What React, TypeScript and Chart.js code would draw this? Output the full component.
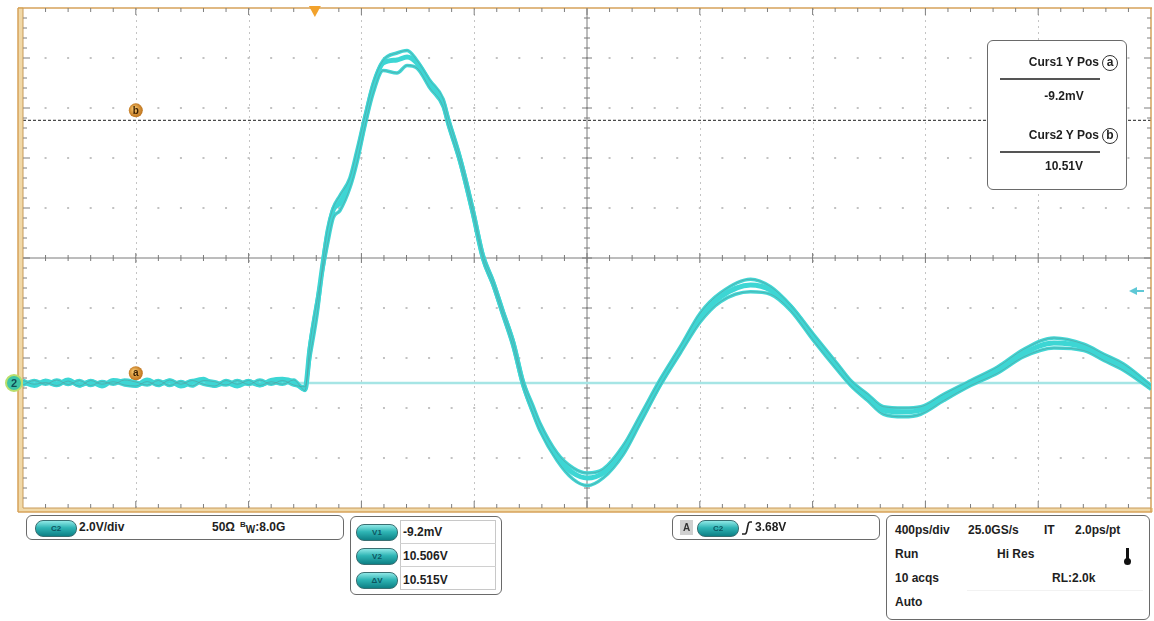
import React, { useEffect, useRef } from "react";
import { Chart, registerables } from "chart.js";

Chart.register(...registerables);

// ---------- data ----------
const timePs = [
  0, 40, 80, 120, 160, 200, 240, 280, 320, 360, 400, 440, 480, 520, 560, 600, 640, 680, 720, 760, 800, 840, 880, 920, 960, 1000,
  1017, 1046, 1064, 1079, 1100, 1124, 1159, 1184, 1213, 1242, 1277, 1326, 1362, 1397, 1443, 1490, 1507, 1550, 1596, 1631,
  1667, 1702, 1738, 1773, 1808, 1833, 1894, 1951, 2001, 2057, 2129, 2189, 2260, 2331, 2402, 2473, 2580, 2651, 2722, 2803,
  2889, 2935, 2995, 3052, 3123, 3183, 3265, 3361, 3457, 3549, 3656, 3762, 3833, 3904, 4000,
];

const trace1V = [
  0.05, -0.1, 0.08, -0.05, 0.12, -0.08, 0.05, -0.12, 0.1, 0.02, -0.1, 0.12, -0.05, 0.08, -0.12, 0.05, 0.15, -0.1, 0.02, -0.12, 0.05, -0.08, 0.1, 0.15, 0.05, -0.25,
  1.32, 3.32, 4.8, 5.84, 6.92, 7.2, 8.0, 9.04, 10.52, 11.84, 12.8, 12.92, 13.04, 12.8, 12.0, 11.2, 10.5, 8.92, 6.8, 5.04,
  4.0, 2.8, 1.6, 0, -1.08, -1.76, -2.96, -3.6, -3.8, -3.6, -2.68, -1.48, 0, 1.32, 2.64, 3.44, 3.92, 3.72, 3.04, 1.84,
  0.64, 0, -0.56, -1.08, -1.16, -1.08, -0.56, 0, 0.52, 1.2, 1.6, 1.44, 1.04, 0.64, -0.16,
];

const trace2V = [
  -0.08, 0.1, -0.05, 0.12, -0.06, 0.1, -0.1, 0.06, -0.05, 0.12, 0.04, -0.08, 0.1, -0.1, 0.06, -0.12, 0.1, 0.05, -0.08, 0.1, -0.06, 0.12, -0.05, 0.1, -0.08, -0.15,
  1.0, 3.0, 4.9, 6.1, 7.0, 7.5, 8.2, 9.3, 10.7, 12.0, 12.9, 13.2, 13.3, 12.9, 12.1, 11.35, 10.65, 9.05, 6.95, 5.15,
  4.1, 2.9, 1.7, 0.1, -0.9, -1.6, -2.8, -3.4, -3.6, -3.45, -2.5, -1.3, 0.15, 1.45, 2.8, 3.6, 4.15, 3.85, 3.1, 1.95,
  0.75, 0.1, -0.45, -0.95, -1.0, -0.95, -0.45, 0.1, 0.65, 1.35, 1.8, 1.55, 1.15, 0.75, -0.1,
];

const trace3V = [
  0.1, -0.05, 0.02, -0.1, 0.08, -0.12, 0.1, -0.05, 0.05, -0.08, -0.12, 0.06, -0.1, 0.12, -0.05, 0.1, -0.05, -0.12, 0.1, -0.05, 0.1, -0.1, 0.05, -0.05, 0.12, -0.3,
  1.5, 3.5, 4.6, 5.5, 6.6, 6.9, 7.8, 8.8, 10.3, 11.6, 12.5, 12.4, 12.7, 12.6, 11.8, 11.05, 10.35, 8.8, 6.7, 4.95,
  3.9, 2.7, 1.45, -0.1, -1.2, -1.9, -3.1, -3.85, -4.1, -3.8, -2.85, -1.6, -0.1, 1.2, 2.45, 3.25, 3.65, 3.55, 2.9, 1.7,
  0.5, -0.1, -0.7, -1.25, -1.35, -1.25, -0.7, -0.1, 0.4, 1.05, 1.4, 1.3, 0.9, 0.5, -0.25,
];

const groundT = [0, 4000];
const groundV = [0, 0];

const xDivisionsPs = [0, 400, 800, 1200, 1600, 2000, 2400, 2800, 3200, 3600, 4000];
const yDivisionsV = [-5, -3, -1, 1, 3, 5, 7, 9, 11, 13, 15];

const cursor1V = -0.0092;
const cursor2V = 10.506;
const cursorMarkerTimePs = 400;
const triggerTimePs = 1035;
const triggerLevelV = 3.68;

// ---------- plugin drawing the scope screen ----------
function ln(ctx: any, x1: number, y1: number, x2: number, y2: number) {
  ctx.beginPath();
  ctx.moveTo(x1, y1);
  ctx.lineTo(x2, y2);
  ctx.stroke();
}

function badge(ctx: any, x: number, y: number, letter: string) {
  const g = ctx.createRadialGradient(x - 2, y - 2, 1, x, y, 8);
  g.addColorStop(0, "#f7c46a");
  g.addColorStop(1, "#b86a14");
  ctx.fillStyle = g;
  ctx.beginPath();
  ctx.arc(x, y, 7, 0, Math.PI * 2);
  ctx.fill();
  ctx.fillStyle = "#3a1e00";
  ctx.font = 'bold 10px "Liberation Sans", Arial, sans-serif';
  ctx.textAlign = "center";
  ctx.textBaseline = "middle";
  ctx.fillText(letter, x, y + 0.5);
}

const scopePlugin = {
  id: "scopeScreen",
  beforeDatasetsDraw(chart: any) {
    const { ctx, chartArea: a, scales } = chart;
    const xs = scales.x;
    const ys = scales.y;
    const L = a.left, R = a.right, T = a.top, B = a.bottom;
    const xMaj = xDivisionsPs.map((v) => xs.getPixelForValue(v));
    const yMaj = yDivisionsV.map((v) => ys.getPixelForValue(v));
    const cx = xMaj[5];
    const cy = yMaj[5];
    const xm = (xMaj[1] - xMaj[0]) / 5;
    const ym = (yMaj[0] - yMaj[1]) / 5;
    ctx.save();

    ctx.strokeStyle = "#c4c4c4";
    ctx.lineWidth = 1;
    ctx.setLineDash([2, 4]);
    xMaj.forEach((px, i) => {
      if (i === 0 || i === 10 || i === 5) return;
      ln(ctx, Math.round(px) + 0.5, T, Math.round(px) + 0.5, B);
    });
    ctx.setLineDash([]);

    ctx.fillStyle = "#c2c2c2";
    yMaj.forEach((py, i) => {
      if (i === 0 || i === 10 || i === 5) return;
      for (let k = 1; k < 50; k++) {
        const px = L + k * xm;
        ctx.fillRect(px - 1, py - 1, 2, 2);
      }
    });

    ctx.strokeStyle = "#7a7a7a";
    ctx.lineWidth = 1;
    ln(ctx, L, cy, R, cy);
    ln(ctx, cx, T, cx, B);
    for (let k = 1; k < 50; k++) {
      const px = L + k * xm;
      const len = k % 5 === 0 ? 5 : 3;
      ln(ctx, px, cy - len, px, cy + len);
    }
    for (let k = 1; k < 50; k++) {
      const py = T + k * ym;
      const len = k % 5 === 0 ? 5 : 3;
      ln(ctx, cx - len, py, cx + len, py);
    }

    const pb = ys.getPixelForValue(cursor2V);
    ctx.strokeStyle = "#4a4a4a";
    ctx.lineWidth = 1.3;
    ctx.setLineDash([3, 2]);
    ln(ctx, L, pb, R, pb);
    ctx.setLineDash([]);

    ctx.fillStyle = "#f1d9a8";
    ctx.fillRect(L - 5, T - 1, 5, B - T + 5);
    ctx.fillRect(L - 5, B, R - L + 7, 4);
    ctx.strokeStyle = "#d6a25a";
    ctx.lineWidth = 1.5;
    ln(ctx, L - 5, T, R + 1, T);
    ln(ctx, L - 5, T, L - 5, B + 4);
    ln(ctx, L - 5, B + 4, R + 1, B + 4);
    ln(ctx, R, T, R, B + 4);
    ctx.strokeStyle = "#c89a58";
    ctx.lineWidth = 1;
    ln(ctx, L, T, L, B);
    ln(ctx, L, B, R, B);

    ctx.strokeStyle = "#7e7e7e";
    ctx.lineWidth = 1;
    for (let k = 1; k < 50; k++) {
      const px = L + k * xm;
      const len = k % 5 === 0 ? 7 : 4;
      ln(ctx, px, T, px, T + len);
      ln(ctx, px, B, px, B - len);
    }
    for (let k = 1; k < 50; k++) {
      const py = T + k * ym;
      const len = k % 5 === 0 ? 7 : 4;
      ln(ctx, L, py, L + len, py);
      ln(ctx, R, py, R - len, py);
    }
    ctx.restore();
  },
  afterDatasetsDraw(chart: any) {
    const { ctx, chartArea: a, scales } = chart;
    const xs = scales.x;
    const ys = scales.y;
    ctx.save();
    const mx = xs.getPixelForValue(cursorMarkerTimePs);
    badge(ctx, mx, ys.getPixelForValue(cursor2V) - 10, "b");
    badge(ctx, mx, ys.getPixelForValue(cursor1V) - 10, "a");

    const gy = ys.getPixelForValue(0);
    ctx.fillStyle = "#3fc4a6";
    ctx.strokeStyle = "#b9df6c";
    ctx.lineWidth = 2;
    ctx.beginPath();
    ctx.arc(a.left - 9, gy, 8, 0, Math.PI * 2);
    ctx.fill();
    ctx.stroke();
    ctx.fillStyle = "#124a55";
    ctx.font = 'bold 11px "Liberation Sans", Arial, sans-serif';
    ctx.textAlign = "center";
    ctx.textBaseline = "middle";
    ctx.fillText("2", a.left - 9, gy + 0.5);

    const tx = xs.getPixelForValue(triggerTimePs);
    ctx.fillStyle = "#f2a22c";
    ctx.beginPath();
    ctx.moveTo(tx - 6, a.top - 2);
    ctx.lineTo(tx + 6, a.top - 2);
    ctx.lineTo(tx, a.top + 9);
    ctx.closePath();
    ctx.fill();

    const ty = ys.getPixelForValue(triggerLevelV);
    ctx.fillStyle = "#5ec8d6";
    ctx.strokeStyle = "#5ec8d6";
    ctx.lineWidth = 2;
    ctx.beginPath();
    ctx.moveTo(a.right - 22, ty);
    ctx.lineTo(a.right - 14, ty - 4);
    ctx.lineTo(a.right - 14, ty + 4);
    ctx.closePath();
    ctx.fill();
    ln(ctx, a.right - 14, ty, a.right - 7, ty);
    ctx.restore();
  },
};

// ---------- HTML overlay helpers ----------
const FONT = '"Liberation Sans", Arial, Helvetica, sans-serif';

function Pill({ label, x, y }: { label: string; x: number; y: number }) {
  return (
    <div
      style={{
        position: "absolute",
        left: x,
        top: y,
        width: 40,
        height: 15,
        borderRadius: 8,
        background: "linear-gradient(#8fe8e6 0%, #2fb5b5 45%, #0e8085 100%)",
        border: "1px solid #3a6f72",
        color: "#0d5560",
        fontSize: 8,
        fontWeight: "bold",
        lineHeight: "15px",
        textAlign: "center",
        fontFamily: FONT,
      }}
    >
      {label}
    </div>
  );
}

function T({ x, y, children, size = 12 }: { x: number; y: number; children: any; size?: number }) {
  return (
    <div
      style={{
        position: "absolute",
        left: x,
        top: y - 8,
        height: 16,
        lineHeight: "16px",
        fontSize: size,
        fontWeight: "bold",
        color: "#1e1e1e",
        whiteSpace: "nowrap",
        fontFamily: FONT,
      }}
    >
      {children}
    </div>
  );
}

function Box({ x, y, w, h, children }: { x: number; y: number; w: number; h: number; children?: any }) {
  return (
    <div
      style={{
        position: "absolute",
        left: x,
        top: y,
        width: w,
        height: h,
        border: "1.5px solid #6a6a6a",
        borderRadius: 6,
        background: "#ffffff",
        boxSizing: "border-box",
      }}
    >
      {children}
    </div>
  );
}

function Circled({ x, y, ch }: { x: number; y: number; ch: string }) {
  return (
    <div
      style={{
        position: "absolute",
        left: x,
        top: y - 8,
        width: 16,
        height: 16,
        borderRadius: "50%",
        border: "1.5px solid #333",
        boxSizing: "border-box",
        fontSize: 12,
        lineHeight: "12px",
        textAlign: "center",
        fontWeight: "bold",
        color: "#222",
        fontFamily: FONT,
      }}
    >
      {ch}
    </div>
  );
}

function HLine({ x, y, w, color = "#555", t = 2 }: { x: number; y: number; w: number; color?: string; t?: number }) {
  return <div style={{ position: "absolute", left: x, top: y, width: w, height: t, background: color }} />;
}

export default function App() {
  const canvasRef = useRef<HTMLCanvasElement | null>(null);

  useEffect(() => {
    const canvas = canvasRef.current;
    if (!canvas) return;
    const pts = (vals: number[]) => timePs.map((t, i) => ({ x: t, y: vals[i] }));
    const chart = new Chart(canvas, {
      type: "line",
      data: {
        datasets: [
          {
            label: "ground",
            data: groundT.map((t, i) => ({ x: t, y: groundV[i] })),
            borderColor: "#a6e5e5",
            borderWidth: 2.5,
            pointRadius: 0,
            order: 10,
          },
          {
            label: "acq2",
            data: pts(trace2V),
            borderColor: "#42d6d4",
            borderWidth: 3.5,
            pointRadius: 0,
            cubicInterpolationMode: "monotone",
            order: 9,
          },
          {
            label: "acq3",
            data: pts(trace3V),
            borderColor: "#42d6d4",
            borderWidth: 3.5,
            pointRadius: 0,
            cubicInterpolationMode: "monotone",
            order: 8,
          },
          {
            label: "acq1",
            data: pts(trace1V),
            borderColor: "#3dd6d4",
            borderWidth: 5,
            pointRadius: 0,
            cubicInterpolationMode: "monotone",
            order: 7,
          },
          {
            label: "acq2 edge",
            data: pts(trace2V),
            borderColor: "rgba(90,150,152,0.55)",
            borderWidth: 1,
            pointRadius: 0,
            cubicInterpolationMode: "monotone",
            order: 2,
          },
          {
            label: "acq3 edge",
            data: pts(trace3V),
            borderColor: "rgba(90,150,152,0.55)",
            borderWidth: 1,
            pointRadius: 0,
            cubicInterpolationMode: "monotone",
            order: 1,
          },
        ],
      },
      options: {
        animation: false,
        responsive: false,
        maintainAspectRatio: false,
        devicePixelRatio: 1,
        layout: { padding: { left: 23, top: 8, right: 3, bottom: 113 } },
        scales: {
          x: { type: "linear", min: 0, max: 4000, display: false },
          y: { type: "linear", min: -5, max: 15, display: false },
        },
        plugins: {
          legend: { display: false },
          tooltip: { enabled: false },
          title: { display: false },
        },
        events: [],
      },
      plugins: [scopePlugin],
    } as any);
    return () => chart.destroy();
  }, []);

  return (
    <div
      style={{
        position: "absolute",
        left: 0,
        top: 0,
        width: 1154,
        height: 621,
        background: "#ffffff",
        overflow: "hidden",
        fontFamily: FONT,
      }}
    >
      <canvas ref={canvasRef} width={1154} height={621} style={{ position: "absolute", left: 0, top: 0, width: 1154, height: 621 }} />

      <Box x={987} y={40} w={140} h={150}>
        <div style={{ position: "absolute", right: 27, top: 14, fontSize: 12, fontWeight: "bold", color: "#1e1e1e", fontFamily: FONT, whiteSpace: "nowrap" }}>Curs1 Y Pos</div>
        <Circled x={114} y={22} ch="a" />
        <HLine x={12} y={37} w={100} />
        <div style={{ position: "absolute", left: 0, width: 152, top: 48, textAlign: "center", fontSize: 12, fontWeight: "bold", color: "#1e1e1e", fontFamily: FONT }}>-9.2mV</div>
        <div style={{ position: "absolute", right: 27, top: 87, fontSize: 12, fontWeight: "bold", color: "#1e1e1e", fontFamily: FONT, whiteSpace: "nowrap" }}>Curs2 Y Pos</div>
        <Circled x={114} y={95} ch="b" />
        <HLine x={12} y={110} w={100} />
        <div style={{ position: "absolute", left: 0, width: 152, top: 118, textAlign: "center", fontSize: 12, fontWeight: "bold", color: "#1e1e1e", fontFamily: FONT }}>10.51V</div>
      </Box>

      <Box x={26} y={515} w={318} h={25}>
        <Pill label="C2" x={8} y={4} />
        <T x={52} y={11}>2.0V/div</T>
        <T x={185} y={11}>50Ω</T>
        <T x={213} y={11}>
          <span style={{ fontSize: 8, position: "relative", top: -4 }}>B</span>
          <span style={{ fontSize: 10, position: "relative", top: 2 }}>W</span>:8.0G
        </T>
      </Box>

      <Box x={350} y={516} w={152} h={79}>
        <div style={{ position: "absolute", left: 49, top: 3, width: 96, height: 70, border: "1px solid #c8c8c8", boxSizing: "border-box" }} />
        <HLine x={49} y={26} w={96} color="#d0d0d0" t={1} />
        <HLine x={49} y={49} w={96} color="#d0d0d0" t={1} />
        <Pill label="V1" x={5} y={7} />
        <Pill label="V2" x={5} y={31} />
        <Pill label="ΔV" x={5} y={55} />
        <T x={52} y={15}>-9.2mV</T>
        <T x={52} y={39}>10.506V</T>
        <T x={52} y={63}>10.515V</T>
      </Box>

      <Box x={672} y={515} w={208} h={25}>
        <div style={{ position: "absolute", left: 7, top: 4, width: 13, height: 15, background: "#d0d0d0", color: "#333", fontSize: 10, fontWeight: "bold", lineHeight: "15px", textAlign: "center", fontFamily: FONT }}>A</div>
        <Pill label="C2" x={24} y={4} />
        <svg style={{ position: "absolute", left: 68, top: 4 }} width="12" height="16" viewBox="0 0 12 16">
          <path d="M1 14 L4 14 Q5.5 14 6 10 L7 5 Q7.5 2 9 2 L11 2" fill="none" stroke="#222" strokeWidth="1.6" />
        </svg>
        <T x={82} y={11}>3.68V</T>
      </Box>

      <Box x={886} y={515} w={264} h={105}>
        <T x={8} y={14}>400ps/div</T>
        <T x={81} y={14}>25.0GS/s</T>
        <T x={157} y={14}>IT</T>
        <T x={188} y={14}>2.0ps/pt</T>
        <T x={8} y={38}>Run</T>
        <T x={110} y={38}>Hi Res</T>
        <div style={{ position: "absolute", left: 239, top: 32, width: 3, height: 12, background: "#111" }} />
        <div style={{ position: "absolute", left: 237, top: 42, width: 7, height: 7, borderRadius: "50%", background: "#111" }} />
        <T x={8} y={62}>10 acqs</T>
        <T x={165} y={62}>RL:2.0k</T>
        <T x={8} y={86}>Auto</T>
        <HLine x={80} y={74} w={176} color="#f2f2f2" t={1} />
      </Box>
    </div>
  );
}
